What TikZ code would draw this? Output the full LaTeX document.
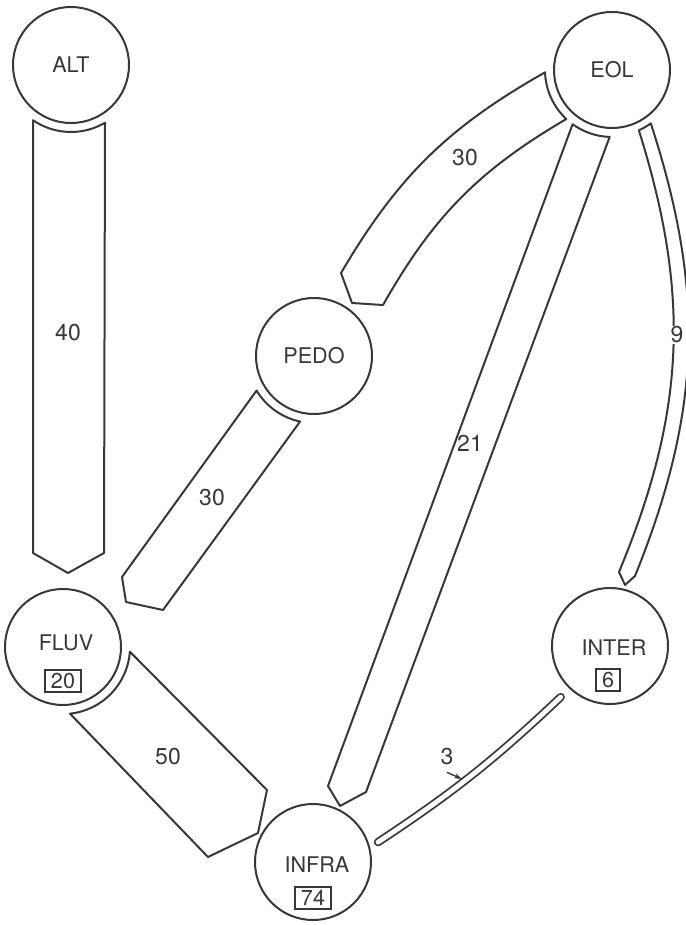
\documentclass[tikz,border=0pt]{standalone}
\usepackage{fontspec}
\setmainfont{TeX Gyre Heros}
\usetikzlibrary{calc,arrows.meta}
\definecolor{ink}{gray}{0.22}
\tikzset{stage/.style = {circle, draw=ink, line width=1pt, minimum size=58pt, inner sep=0pt,
    text=ink, font=\fontsize{10.8}{12}\selectfont},
  tag/.style = {text=ink, font=\fontsize{10.8}{12}\selectfont},
  count/.style = {draw=ink, line width=1pt, inner xsep=3pt, inner ysep=1.5pt,
    text=ink, font=\fontsize{10.8}{12}\selectfont},
  band/.style = {draw=ink, line width=1pt, line join=round},
  thinband/.style = {draw=ink, line width=0.9pt, double=white, double distance=2.4pt, line cap=round},
  flow/.style = {text=ink, font=\fontsize{11.5}{13}\selectfont}}

\begin{document}
\begin{tikzpicture}[x=0.5pt, y=-0.5pt]
  \useasboundingbox (0,0) rectangle (685,925);
  \node[stage] (alt) at (71,65) {ALT};
  \node[stage] (eol) at (612,70) {EOL};
  \node[stage] (pedo) at (314,356) {PEDO};
  \node[stage] (fluv) at (63,647) {};
  \node[stage] (inter) at (610,646) {};
  \node[stage] (infra) at (313,862) {};
  \node[tag] at ($(fluv)+(3,-4)$) {FLUV};
  \node[count] at ($(fluv)+(0,34)$) {20};
  \node[tag] at ($(inter)+(4,2)$) {INTER};
  \node[count] at ($(inter)+(-2,34)$) {6};
  \node[tag] at ($(infra)+(4,3)$) {INFRA};
  \node[count] at ($(infra)+(0,36)$) {74};

  \draw[band] (33,553) -- ($(alt)+(124.5:67)$) arc[start angle=124.5, end angle=59.5, radius=67]
    -- (104,553) -- (68,573) -- cycle;
  \draw[band] (341,273) to[bend left=15] ($(eol)+(178:67)$) arc[start angle=178, end angle=133, radius=67]
    to[bend right=15] (383,305) -- (352,303) -- cycle;
  \draw[band] (328,786) -- ($(eol)+(126:67)$) arc[start angle=126, end angle=92, radius=67]
    -- (366,792) -- (340,806) -- cycle;
  \draw[band] (619,572) to[bend right=20] ($(eol)+(66:66)$) arc[start angle=66, end angle=54, radius=66]
    to[bend left=20] (635,576) -- (625,585) -- cycle;
  \draw[band] (122,577) -- ($(pedo)+(149:67)$) arc[start angle=149, end angle=102, radius=67]
    -- (163,610) -- (126,602) -- cycle;
  \draw[band] (208,857) -- ($(fluv)+(84:67)$) arc[start angle=84, end angle=4, radius=67]
    -- (267,790) -- (258,833) -- cycle;
  \draw[thinband] ($(inter)+(134:71)$) to[bend left=5] ($(infra)+(-17:68)$);

  \node[flow] at (68,333) {40};
  \node[flow] at (465,158) {30};
  \node[flow] at (212,498) {30};
  \node[flow] at (470,443) {21};
  \node[flow, fill=white, inner sep=0.5pt] at (677,335) {9};
  \node[flow] at (168,757) {50};
  \node[flow] (three) at (447,757) {3};
  \coordinate (hit) at (462,779);
  \draw[ink, line width=0.7pt, -{Stealth[length=4pt, width=2.5pt]}] (three.south) -- (hit);
\end{tikzpicture}
\end{document}
